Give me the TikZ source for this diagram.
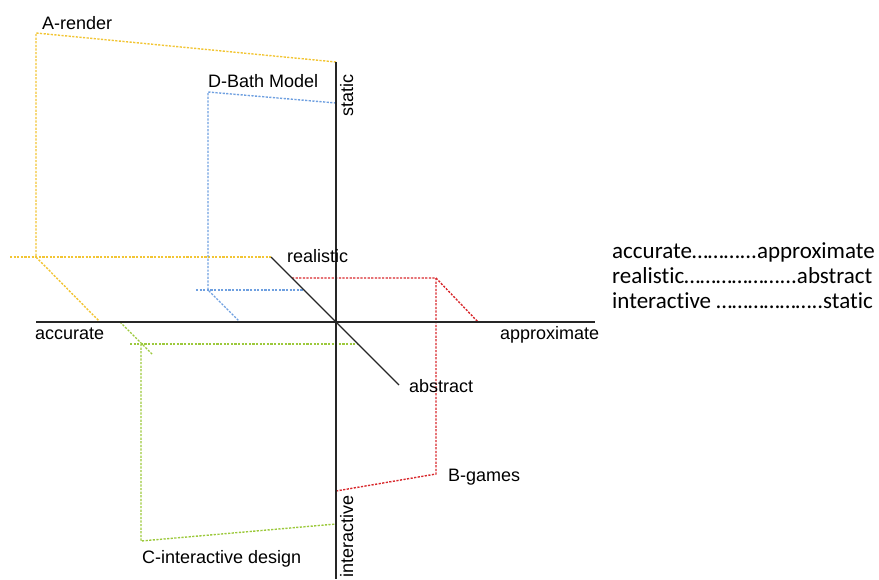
\documentclass[tikz,border=0pt]{standalone}
\usepackage{fontspec}
\setmainfont{Liberation Sans}
\newfontfamily\legendfont[Ligatures=NoCommon]{Carlito}
\newcommand\myell{\symbol{"2026}}
\definecolor{cyel}{HTML}{F2C534}
\definecolor{cblu}{HTML}{6FA0E0}
\definecolor{cred}{HTML}{D8282C}
\definecolor{cgrn}{HTML}{9CC93C}
\begin{document}
\begin{tikzpicture}[x=1pt,y=-1pt,
  axisline/.style={line width=1.3pt,draw=black!85},
  dotline/.style={line width=1.4pt,dash pattern=on 2.2pt off 1.4pt},
  lbl/.style={font=\fontsize{18}{20}\selectfont,inner sep=0pt,anchor=base west},
  legend/.style={font=\legendfont\fontsize{23}{25}\selectfont,inner sep=0pt,anchor=base west}]
\useasboundingbox (0,0) rectangle (879,579);
% axis coordinates
\coordinate (O) at (336,322);
\coordinate (ST) at (336,62);
\coordinate (SB) at (336,579);
\coordinate (HL) at (36,322);
\coordinate (HR) at (595,322);
\coordinate (D1) at (271,257);
\coordinate (D2) at (399,385);
% yellow
\coordinate (A1) at (36,33);
\coordinate (A2) at (336,62);
\coordinate (A3) at (36,257);
\coordinate (A4) at (10,257);
\coordinate (A5) at (100,322);
% blue
\coordinate (B1) at (208,92);
\coordinate (B2) at (336,103);
\coordinate (B3) at (208,290);
\coordinate (B4) at (196,290);
\coordinate (B4r) at (304,290);
\coordinate (B5) at (240,322);
% red
\coordinate (R1) at (292,278);
\coordinate (R2) at (436,278);
\coordinate (R3) at (478,322);
\coordinate (R4) at (436,474);
\coordinate (R5) at (336,491);
% green
\coordinate (G1) at (130,344);
\coordinate (G2) at (358,344);
\coordinate (Gj) at (141,344);
\coordinate (Gd1) at (120,322);
\coordinate (Gd2) at (153,355);
\coordinate (G3) at (141,541);
\coordinate (G4) at (336,524);
% coloured frames
\draw[dotline,cyel] (A2) -- (A1) -- (A3) -- (A5);
\draw[dotline,cyel] (A4) -- (D1);
\draw[dotline,cblu] (B2) -- (B1) -- (B3) -- (B5);
\draw[dotline,cblu] (B4) -- (B4r);
\draw[dotline,cred] (R1) -- (R2) -- (R3);
\draw[dotline,cred] (R2) -- (R4) -- (R5);
\draw[dotline,cgrn] (G1) -- (G2);
\draw[dotline,cgrn] (Gd1) -- (Gd2);
\draw[dotline,cgrn] (Gj) -- (G3) -- (G4);
% axes
\draw[axisline] (ST) -- (SB);
\draw[axisline] (HL) -- (HR);
\draw[axisline] (D1) -- (D2);
% labels
\node[lbl] (la) at (42,29) {A-render};
\node[lbl] (ld) at (208,87) {D-Bath Model};
\node[lbl] (lr) at (287,262) {realistic};
\node[lbl] (lac) at (35,339) {accurate};
\node[lbl] (lap) at (500,339) {approximate};
\node[lbl] (lab) at (409,392) {abstract};
\node[lbl] (lb) at (448,481) {B-games};
\node[lbl] (lc) at (142,563) {C-interactive design};
\node[lbl,rotate=90] (ls) at (353,117) {static};
\node[lbl,rotate=90] (li) at (353,578) {interactive};
% legend
\node[legend] (g1) at (612,258) {accurate\myell\myell\myell...approximate};
\node[legend] (g2) at (612,283) {realistic\myell\myell\myell\myell\myell\myell...abstract};
\node[legend] (g3) at (612,308) {interactive \myell\myell\myell\myell\myell\myell..static};
\end{tikzpicture}
\end{document}
